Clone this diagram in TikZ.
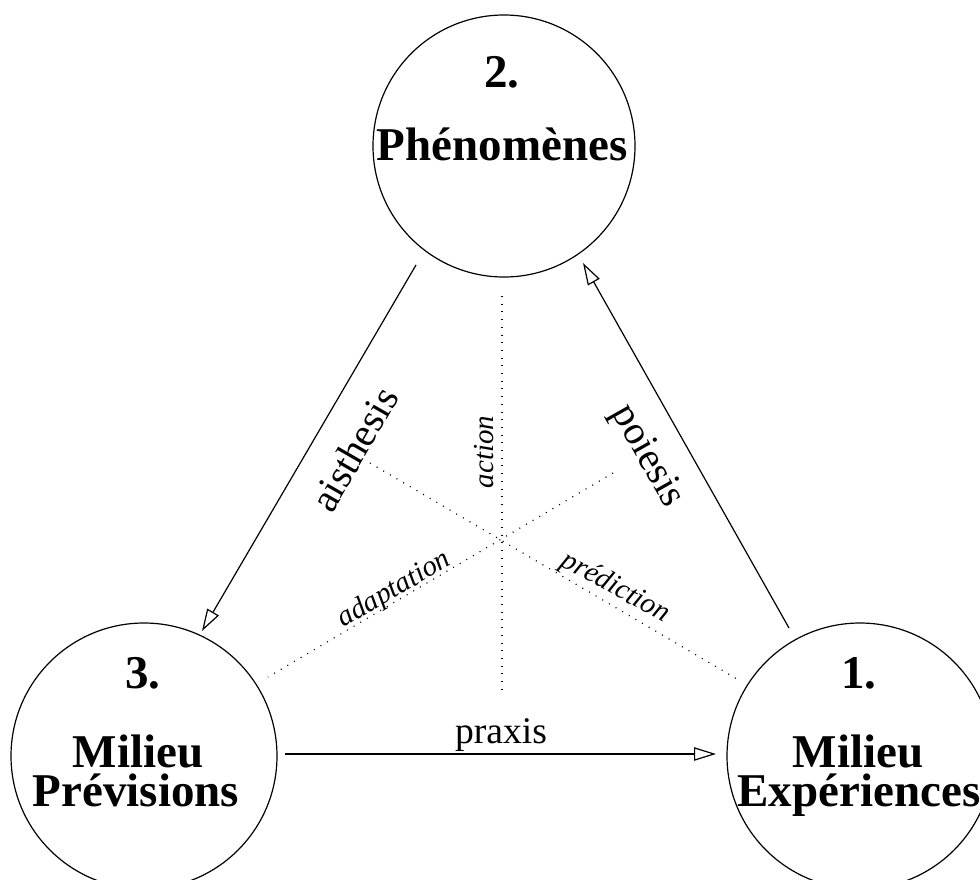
\documentclass[tikz,border=0pt]{standalone}
\usepackage{fontspec}
\setmainfont{Liberation Serif}
\usetikzlibrary{arrows.meta}
\begin{document}
\begin{tikzpicture}[x=0.5pt,y=-0.5pt,
  circ/.style={draw, circle, line width=0.6pt, inner sep=0pt},
  big/.style={font=\fontsize{23.5}{24}\selectfont\bfseries, anchor=base, inner sep=0pt},
  lbl/.style={font=\fontsize{20}{21}\selectfont, anchor=base, inner sep=0pt},
  plbl/.style={font=\fontsize{18.8}{19}\selectfont, anchor=base, inner sep=0pt},
  itl/.style={font=\fontsize{14.5}{15}\selectfont\itshape, anchor=base, inner sep=0pt},
  arr/.style={line width=0.6pt, -{Triangle[open, length=11pt, width=6.7pt]}},
  dots/.style={line width=0.6pt, dash pattern=on 0.5pt off 3.35pt},
]
\useasboundingbox (0,0) rectangle (980,879);
% circles
\node[circ, minimum size=131pt] (top) at (504,146) {};
\node[circ, minimum size=133pt] (bl) at (144,756) {};
\node[circ, minimum size=133pt] (br) at (860,756) {};
% circle texts
\node[big] (t2) at (502,87) {2.};
\node[big] (t2b) at (502,160) {Phénomènes};
\node[big] (t3) at (143,688) {3.};
\node[big] (t3b) at (138,767) {Milieu};
\node[big] (t3c) at (136,806) {Prévisions};
\node[big] (t1) at (859,688) {1.};
\node[big] (t1b) at (858,767) {Milieu};
\node[big] (t1c) at (859,806) {Expériences};
% arrow end points
\coordinate (aS) at (416,265);
\coordinate (aE) at (202,631);
\coordinate (pS) at (789,628);
\coordinate (pE) at (583,263);
\coordinate (xS) at (285,754);
\coordinate (xE) at (716,754);
\draw[arr] (aS) -- (aE);
\draw[arr] (pS) -- (pE);
\draw[arr] (xS) -- (xE);
% dotted lines
\coordinate (v1) at (502,296);
\coordinate (v2) at (502,690);
\coordinate (d1a) at (370,463);
\coordinate (d1b) at (737,679);
\coordinate (d2a) at (613,473);
\coordinate (d2b) at (268,677);
\draw[dots] (v1) -- (v2);
\draw[dots] (d1a) -- (d1b);
\draw[dots] (d2a) -- (d2b);
% labels
\node[plbl] (praxis) at (501,743) {praxis};
\node[lbl, rotate=60] (aist) at (366,456) {aisthesis};
\node[lbl, rotate=-60.5] (poie) at (639,461) {poiesis};
\node[itl, rotate=90] (act) at (493,452) {action};
\node[itl, rotate=30.5] (adap) at (398,596) {adaptation};
\node[itl, rotate=-29] (pred) at (612,594) {prédiction};
\end{tikzpicture}
\end{document}
